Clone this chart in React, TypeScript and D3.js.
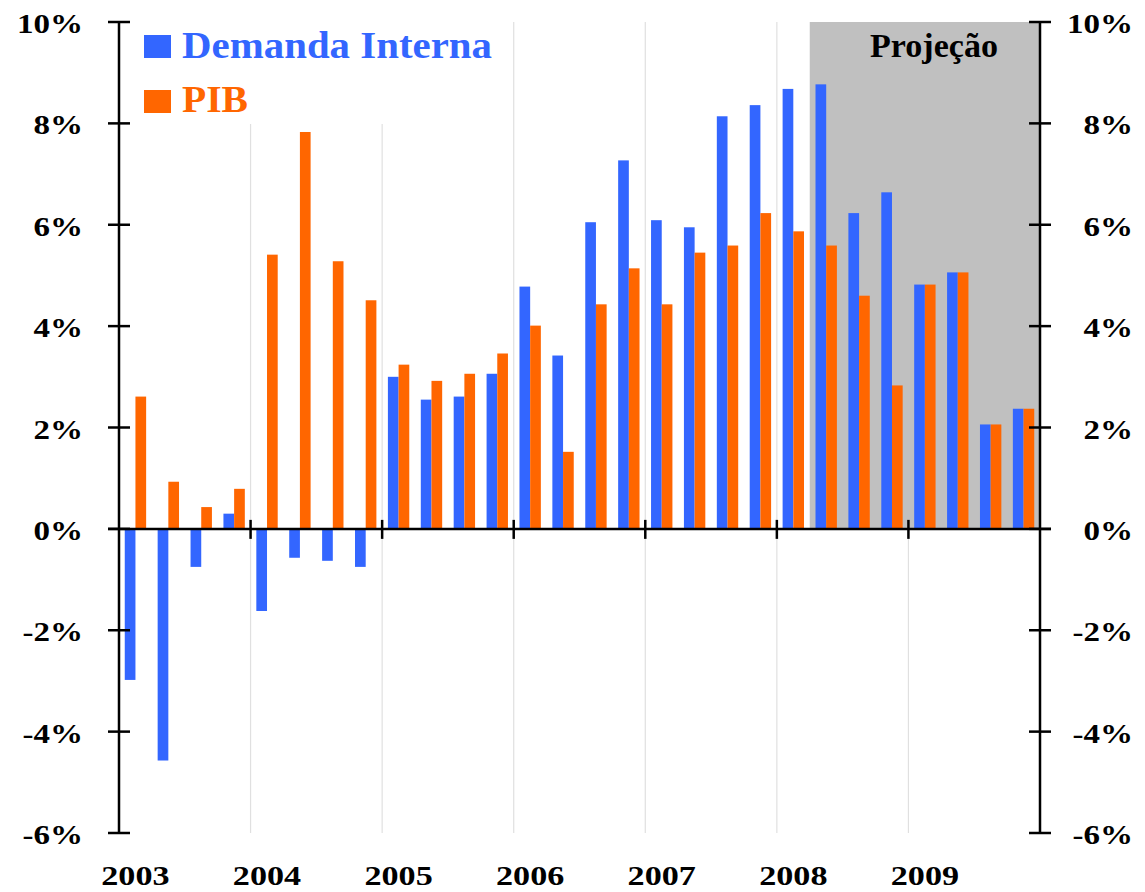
import React, { useEffect, useRef } from 'react';
import * as d3 from 'd3';

const quarters = [
  '2003T1', '2003T2', '2003T3', '2003T4',
  '2004T1', '2004T2', '2004T3', '2004T4',
  '2005T1', '2005T2', '2005T3', '2005T4',
  '2006T1', '2006T2', '2006T3', '2006T4',
  '2007T1', '2007T2', '2007T3', '2007T4',
  '2008T1', '2008T2', '2008T3', '2008T4',
  '2009T1', '2009T2', '2009T3', '2009T4',
];

const demandaInterna = [
  -2.98, -4.57, -0.75, 0.3,
  -1.62, -0.57, -0.63, -0.75,
  3.0, 2.55, 2.61, 3.06,
  4.78, 3.42, 6.05, 7.27,
  6.09, 5.95, 8.14, 8.36,
  8.68, 8.77, 6.23, 6.64,
  4.82, 5.06, 2.06, 2.37,
];

const pib = [
  2.61, 0.93, 0.43, 0.79,
  5.41, 7.83, 5.28, 4.51,
  3.24, 2.92, 3.06, 3.46,
  4.01, 1.52, 4.43, 5.14,
  4.43, 5.45, 5.59, 6.23,
  5.87, 5.59, 4.6, 2.83,
  4.82, 5.06, 2.06, 2.37,
];

const years = ['2003', '2004', '2005', '2006', '2007', '2008', '2009'];
const yTicks = [-6, -4, -2, 0, 2, 4, 6, 8, 10];
const projectionStart = '2008T2';

const seriesNames = ['Demanda Interna', 'PIB'];
const colors = ['#3366FF', '#FF6600'];

const W = 1145;
const H = 892;
const FONT = '"Liberation Serif", "Times New Roman", serif';

const App = () => {
  const ref = useRef<SVGSVGElement | null>(null);

  useEffect(() => {
    const svg = d3.select(ref.current);
    svg.selectAll('*').remove();

    const left = 119;
    const right = 1040;
    const top = 22;
    const bottom = 833;

    const x = d3.scaleBand<string>()
      .domain(quarters)
      .range([left, right])
      .paddingInner(0.35)
      .paddingOuter(0.175);

    const xs = d3.scaleBand<string>()
      .domain(seriesNames)
      .range([0, x.bandwidth()]);

    const y = d3.scaleLinear().domain([-6, 10]).range([bottom, top]);
    const step = x.step();
    const yearX = (i: number) => left + i * 4 * step;

    // vertical gridlines at year boundaries
    svg.append('g')
      .selectAll('line')
      .data(years.slice(1))
      .enter().append('line')
      .attr('x1', (_d, i) => yearX(i + 1))
      .attr('x2', (_d, i) => yearX(i + 1))
      .attr('y1', top)
      .attr('y2', bottom)
      .attr('stroke', '#E0E0E0')
      .attr('stroke-width', 1.2);

    // projection area
    const projX = left + quarters.indexOf(projectionStart) * step;
    svg.append('rect')
      .attr('x', projX)
      .attr('y', y(10))
      .attr('width', right - projX)
      .attr('height', y(0) - y(10))
      .attr('fill', '#C0C0C0');

    svg.append('text')
      .attr('x', 870)
      .attr('y', 57)
      .attr('font-family', FONT)
      .attr('font-weight', 'bold')
      .attr('font-size', 34)
      .attr('textLength', 128)
      .attr('lengthAdjust', 'spacingAndGlyphs')
      .attr('fill', '#000')
      .text('Projeção');

    // legend background
    svg.append('rect')
      .attr('x', 130)
      .attr('y', top)
      .attr('width', 375)
      .attr('height', 102)
      .attr('fill', '#fff');

    // bars
    const data = quarters.map((q, i) => ({ q, values: [demandaInterna[i], pib[i]] }));
    const groups = svg.append('g')
      .selectAll('g')
      .data(data)
      .enter().append('g')
      .attr('transform', d => `translate(${x(d.q)},0)`);

    groups.selectAll('rect')
      .data(d => d.values.map((v, k) => ({ v, k })))
      .enter().append('rect')
      .attr('x', d => xs(seriesNames[d.k]) as number)
      .attr('width', xs.bandwidth())
      .attr('y', d => y(Math.max(0, d.v)))
      .attr('height', d => Math.abs(y(d.v) - y(0)))
      .attr('fill', d => colors[d.k]);

    // axes
    const axes = svg.append('g').attr('stroke', '#000');
    [left, right].forEach(ax => {
      axes.append('line')
        .attr('x1', ax).attr('x2', ax)
        .attr('y1', top - 1).attr('y2', bottom + 1)
        .attr('stroke-width', 2.5);
      axes.selectAll(null)
        .data(yTicks)
        .enter().append('line')
        .attr('x1', ax - 11).attr('x2', ax + 11)
        .attr('y1', d => y(d)).attr('y2', d => y(d))
        .attr('stroke-width', 2.5);
    });

    axes.append('line')
      .attr('x1', left - 11).attr('x2', right + 11)
      .attr('y1', y(0)).attr('y2', y(0))
      .attr('stroke-width', 2.5);

    axes.selectAll(null)
      .data(years.slice(1))
      .enter().append('line')
      .attr('x1', (_d, i) => yearX(i + 1)).attr('x2', (_d, i) => yearX(i + 1))
      .attr('y1', y(0) - 9).attr('y2', y(0) + 10)
      .attr('stroke-width', 2.5);

    const pct = (d: number) => `${d}%`;

    // y labels, left and right
    const yLabel = (ax: number) => {
      svg.append('g')
        .selectAll('text')
        .data(yTicks)
        .enter().append('text')
        .attr('transform', d => `translate(${ax},${y(d) + 11}) scale(1.2,1)`)
        .attr('text-anchor', 'end')
        .attr('font-family', FONT)
        .attr('font-weight', 'bold')
        .attr('font-size', 27.5)
        .attr('fill', '#000')
        .text(pct);
    };
    yLabel(83);
    yLabel(1133);

    // year labels
    svg.append('g')
      .selectAll('text')
      .data(years)
      .enter().append('text')
      .attr('transform', d => `translate(${(x(`${d}T1`) as number) + x.bandwidth() / 2},885) scale(1.22,1)`)
      .attr('text-anchor', 'middle')
      .attr('font-family', FONT)
      .attr('font-weight', 'bold')
      .attr('font-size', 28)
      .attr('fill', '#000')
      .text(d => d);

    // legend
    const legend = svg.append('g');
    const legendRows = [
      { name: seriesNames[0], y: 35, base: 58, len: 310 },
      { name: seriesNames[1], y: 90, base: 112, len: 66 },
    ];
    legendRows.forEach((r, i) => {
      legend.append('rect')
        .attr('x', 144).attr('y', r.y)
        .attr('width', 27).attr('height', 23)
        .attr('fill', colors[i]);
      legend.append('text')
        .attr('x', 182).attr('y', r.base)
        .attr('font-family', FONT)
        .attr('font-weight', 'bold')
        .attr('font-size', 37)
        .attr('textLength', r.len)
        .attr('lengthAdjust', 'spacingAndGlyphs')
        .attr('fill', colors[i])
        .text(r.name);
    });
  }, []);

  return (
    <svg
      ref={ref}
      width={W}
      height={H}
      style={{ position: 'absolute', left: 0, top: 0, background: '#fff' }}
    />
  );
};

export default App;
